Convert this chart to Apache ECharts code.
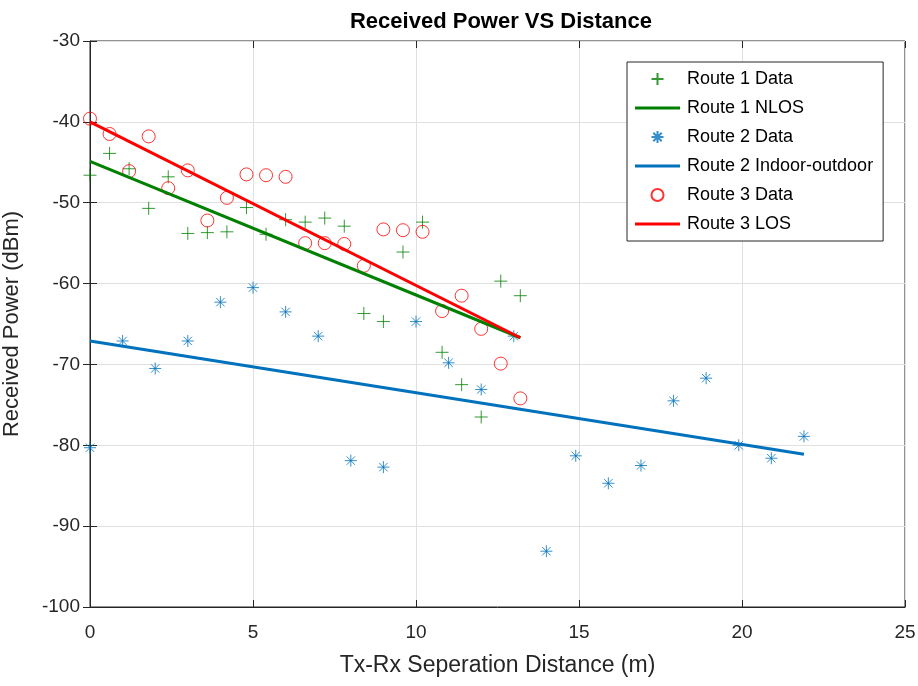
<!DOCTYPE html>
<html>
<head>
<meta charset="utf-8">
<script src="https://cdn.jsdelivr.net/npm/echarts@6/dist/echarts.min.js"></script>
<style>
  html, body { margin: 0; padding: 0; background: #fff; }
  #chart { width: 918px; height: 686px; }
</style>
</head>
<body>
<div id="chart"></div>
<script>
// ── data ─────────────────────────────────────────────────────
const R1_X = [0, 0.6, 1.2, 1.8, 2.4, 3.0, 3.6, 4.2, 4.8, 5.4, 6.0, 6.6, 7.2, 7.8, 8.4, 9.0, 9.6, 10.2, 10.8, 11.4, 12.0, 12.6, 13.2]
const R1_Y = [-46.6, -43.9, -45.8, -50.7, -46.8, -53.8, -53.7, -53.6, -50.6, -53.9, -52.1, -52.4, -51.9, -52.9, -63.7, -64.7, -56.1, -52.4, -68.5, -72.5, -76.5, -59.7, -61.5]
const R1_FIT_X = [0, 13.2]
const R1_FIT_Y = [-44.9, -66.7]

const R2_X = [0, 1, 2, 3, 4, 5, 6, 7, 8, 9, 10, 11, 12, 13, 14, 14.9, 15.9, 16.9, 17.9, 18.9, 19.9, 20.9, 21.9]
const R2_Y = [-80.3, -67.1, -70.5, -67.1, -62.3, -60.5, -63.5, -66.5, -81.9, -82.7, -64.7, -69.8, -73.1, -66.5, -93.1, -81.3, -84.7, -82.5, -74.5, -71.7, -80.0, -81.6, -78.9]
const R2_FIT_X = [0, 21.9]
const R2_FIT_Y = [-67.1, -81.1]

const R3_X = R1_X
const R3_Y = [-39.6, -41.5, -46.1, -41.8, -48.2, -46.0, -52.2, -49.4, -46.5, -46.6, -46.8, -55.0, -55.0, -55.1, -57.8, -53.3, -53.4, -53.6, -63.4, -61.5, -65.6, -69.9, -74.2]
const R3_FIT_X = [0, 13.2]
const R3_FIT_Y = [-40.0, -66.7]

const NAMES = ['Route 1 Data', 'Route 1 NLOS', 'Route 2 Data', 'Route 2 Indoor-outdoor', 'Route 3 Data', 'Route 3 LOS']

// ── colours / markers ────────────────────────────────────────
const GREEN = '#008000'
const BLUE = '#0072BD'
const RED = '#FF0000'
const AXIS = '#262626'
const FONT = 'Liberation Sans'
const PLUS = 'path://M0,-6L0,6M-6,0L6,0'
const STAR = 'path://M0,-6L0,6M-6,0L6,0M-4.2,-4.2L4.2,4.2M-4.2,4.2L4.2,-4.2'
const BAR = 'path://M0,0H15V1H0Z'   // legend icon for the fitted lines

const zip = (xs, ys) => xs.map((x, i) => [x, ys[i]])

function scatter(name, xs, ys, symbol, size, color) {
  return {
    name, type: 'scatter', data: zip(xs, ys),
    symbol, symbolSize: size,
    itemStyle: { color: 'rgba(0,0,0,0)', borderColor: color, borderWidth: 1 },
    emphasis: { disabled: true },
  }
}

function fit(name, xs, ys, color) {
  return {
    name, type: 'line', data: zip(xs, ys),
    symbol: 'none', color,
    lineStyle: { color, width: 3 },
    emphasis: { disabled: true },
  }
}

const chart = echarts.init(document.getElementById('chart'))

const tickAxis = {
  axisLine: { show: false },
  axisTick: { show: true, inside: true, length: 7, lineStyle: { color: AXIS } },
  axisLabel: { show: false },
  splitLine: { show: false },
}

chart.setOption({
  animation: false,
  backgroundColor: '#fff',
  title: {
    text: 'Received Power VS Distance',
    left: 496, top: 6, textAlign: 'center',
    textStyle: { fontFamily: FONT, fontSize: 22, fontWeight: 'bold', color: '#000' },
  },
  grid: {
    left: 90, right: 13, top: 41, bottom: 79,
    outerBoundsMode: 'none',
    show: true, borderColor: AXIS, borderWidth: 1, backgroundColor: '#fff',
  },
  legend: {
    orient: 'vertical',
    left: 627, top: 62,
    padding: [8, 10, 8, 8],
    itemWidth: 45, itemHeight: 12, itemGap: 11,
    backgroundColor: '#fff', borderColor: AXIS, borderWidth: 1,
    textStyle: { fontFamily: FONT, fontSize: 18, lineHeight: 18, color: '#000', padding: [0, 0, 0, 2] },
    data: NAMES.map((n, i) => (i % 2 ? { name: n, icon: BAR } : { name: n })),
  },
  xAxis: [{
    type: 'value', min: 0, max: 25, interval: 5,
    name: 'Tx-Rx Seperation Distance (m)', nameLocation: 'middle', nameGap: 47,
    nameTextStyle: { fontFamily: FONT, fontSize: 23, color: AXIS },
    axisLine: { show: true, lineStyle: { color: AXIS } },
    axisTick: { show: true, inside: true, length: 7, lineStyle: { color: AXIS } },
    axisLabel: { fontFamily: FONT, fontSize: 19, color: AXIS, margin: 16 },
    splitLine: { show: true, lineStyle: { color: '#e0e0e0' } },
  }, {
    type: 'value', position: 'top', min: 0, max: 25, interval: 5, ...tickAxis,
  }],
  yAxis: [{
    type: 'value', min: -100, max: -30, interval: 10,
    name: 'Received Power (dBm)', nameLocation: 'middle', nameGap: 67,
    nameTextStyle: { fontFamily: FONT, fontSize: 22, color: AXIS },
    axisLine: { show: true, lineStyle: { color: AXIS } },
    axisTick: { show: true, inside: true, length: 7, lineStyle: { color: AXIS } },
    axisLabel: { fontFamily: FONT, fontSize: 19, color: AXIS, margin: 10 },
    splitLine: { show: true, lineStyle: { color: '#e0e0e0' } },
  }, {
    type: 'value', position: 'right', min: -100, max: -30, interval: 10, ...tickAxis,
  }],
  series: [
    scatter(NAMES[0], R1_X, R1_Y, PLUS, 13, GREEN),
    fit(NAMES[1], R1_FIT_X, R1_FIT_Y, GREEN),
    scatter(NAMES[2], R2_X, R2_Y, STAR, 12, BLUE),
    fit(NAMES[3], R2_FIT_X, R2_FIT_Y, BLUE),
    scatter(NAMES[4], R3_X, R3_Y, 'circle', 13, RED),
    fit(NAMES[5], R3_FIT_X, R3_FIT_Y, RED),
  ],
})
</script>
</body>
</html>
